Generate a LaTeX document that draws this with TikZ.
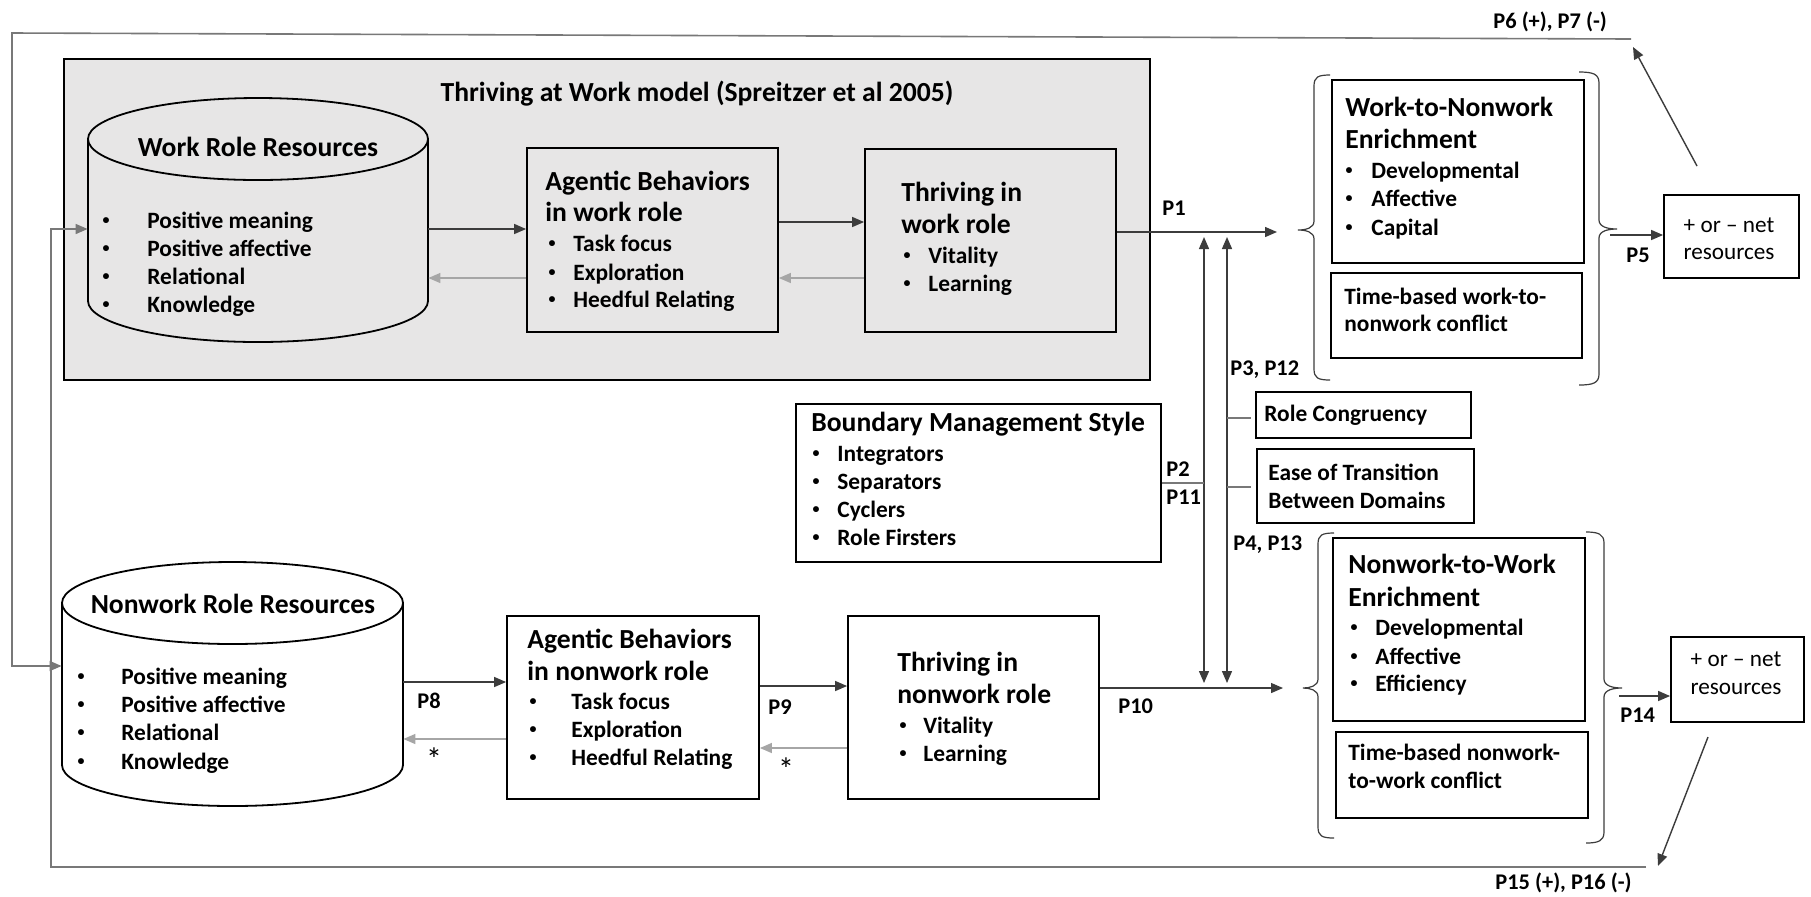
\documentclass[tikz,border=0pt]{standalone}
\usepackage{fontspec}
\setmainfont{Carlito}
\usetikzlibrary{arrows.meta,fit}
\definecolor{panel}{RGB}{231,230,230}
\definecolor{lgray}{RGB}{166,166,166}
\definecolor{dgray}{RGB}{60,60,60}
\definecolor{fgray}{RGB}{120,120,120}
\newcommand\ftitle{\fontsize{13.8pt}{16pt}\selectfont\bfseries}
\newcommand\fbody{\fontsize{11.7pt}{13.5pt}\selectfont\bfseries}
\newcommand\fbul{\fontsize{7pt}{8pt}\selectfont\bfseries}
\newcommand\fnet{\fontsize{11.6pt}{13.5pt}\selectfont}
\newcommand\flab{\fontsize{11.2pt}{13pt}\selectfont\bfseries}
\newcommand\fast{\fontsize{16pt}{18pt}\selectfont}
\begin{document}
\begin{tikzpicture}[x=0.5pt,y=-0.5pt,
  box/.style={draw=black, line width=0.9pt, inner sep=0},
  holder/.style={inner sep=0},
  txt/.style={inner sep=0, anchor=mid west, yshift=-1.5pt},
  ttl/.style={inner sep=0, anchor=mid west, yshift=-2pt, font=\ftitle},
  ctxt/.style={inner sep=0, anchor=mid, yshift=-1.5pt},
  bul/.style={inner sep=0, anchor=center, font=\fbul},
  tip/.style={-{Triangle[length=6pt,width=5pt]}},
  arr/.style={tip, line width=0.7pt, draw=dgray, fill=dgray},
  back/.style={tip, line width=0.7pt, draw=lgray, fill=lgray},
  fb/.style={tip, line width=0.8pt, draw=fgray},
  dbl/.style={{Triangle[length=6pt,width=5pt]}-{Triangle[length=6pt,width=5pt]}, line width=0.7pt, draw=dgray},
  thin/.style={line width=0.7pt, draw=fgray},
  brc/.style={line width=0.6pt, draw=dgray}]
\fill[white] (0,0) rectangle (1811,896);
\useasboundingbox (0,0) rectangle (1811,896);

% ---------- panel ----------
\node[box, fill=panel, fit={(64,59) (1150,380)}] (panel) {};
\node[ctxt, yshift=-0.5pt, font=\ftitle] (ptitle) at (697,93) {Thriving at Work model (Spreitzer et al 2005)};

% ---------- work role resources cylinder ----------
\draw[line width=0.9pt] (258,139) ellipse [x radius=170, y radius=41];
\draw[line width=0.9pt] (88,139) -- (88,301) arc[start angle=180, end angle=0, x radius=170, y radius=41] -- (428,139);
\node[holder, fit={(88,98) (428,342)}] (wrr) {};
\node[ctxt, yshift=-0.5pt, font=\ftitle] (wrrT) at (258,148) {Work Role Resources};
\node[bul] (wrrB1) at (106,221) {•};
\node[bul] (wrrB2) at (106,249) {•};
\node[bul] (wrrB3) at (106,277) {•};
\node[bul] (wrrB4) at (106,305) {•};
\node[txt, font=\fbody] (wrr1) at (147,221) {Positive meaning};
\node[txt, font=\fbody] (wrr2) at (147,249) {Positive affective};
\node[txt, font=\fbody] (wrr3) at (147,277) {Relational};
\node[txt, font=\fbody] (wrr4) at (147,305) {Knowledge};

% ---------- agentic work ----------
\node[box, fit={(527,148) (778,332)}] (awb) {};
\node[ttl] (awbT1) at (545,182) {Agentic Behaviors};
\node[ttl] (awbT2) at (545,213) {in work role};
\node[bul] (awbB1) at (552,244) {•};
\node[bul] (awbB2) at (552,273) {•};
\node[bul] (awbB3) at (552,300) {•};
\node[txt, font=\fbody] (awb1) at (573,244) {Task focus};
\node[txt, font=\fbody] (awb2) at (573,273) {Exploration};
\node[txt, font=\fbody] (awb3) at (573,300) {Heedful Relating};

% ---------- thriving work ----------
\node[box, fit={(865,149) (1116,332)}] (thw) {};
\node[ttl] (thwT1) at (901,193) {Thriving in};
\node[ttl] (thwT2) at (901,225) {work role};
\node[bul] (thwB1) at (907,256) {•};
\node[bul] (thwB2) at (907,284) {•};
\node[txt, font=\fbody] (thw1) at (928,256) {Vitality};
\node[txt, font=\fbody] (thw2) at (928,284) {Learning};

\draw[arr] (wrr.east |- 0,229) -- (awb.west |- 0,229);
\draw[back] (awb.west |- 0,278) -- (wrr.east |- 0,278);
\draw[arr] (awb.east |- 0,222) -- (thw.west |- 0,222);
\draw[back] (thw.west |- 0,278) -- (awb.east |- 0,278);

% ---------- work-to-nonwork ----------
\node[box, fit={(1332,80) (1584,263)}] (w2n) {};
\node[ttl] (w2nT1) at (1345,108) {Work-to-Nonwork};
\node[ttl] (w2nT2) at (1345,140) {Enrichment};
\node[bul] (w2nB1) at (1349,171) {•};
\node[bul] (w2nB2) at (1349,199) {•};
\node[bul] (w2nB3) at (1349,228) {•};
\node[txt, font=\fbody] (w2n1) at (1371,171) {Developmental};
\node[txt, font=\fbody] (w2n2) at (1371,199) {Affective};
\node[txt, font=\fbody] (w2n3) at (1371,228) {Capital};
\node[box, fit={(1331,273) (1582,358)}] (tw) {};
\node[txt, font=\fbody] (tw1) at (1344,297) {Time-based work-to-};
\node[txt, font=\fbody] (tw2) at (1344,324) {nonwork conflict};
% left brace
\draw[brc] (1330,75) .. controls (1318,75) and (1314,77) .. (1314,86) -- (1314,221)
  .. controls (1314,228) and (1306,230) .. (1298,230)
  .. controls (1306,230) and (1314,232) .. (1314,239) -- (1314,369)
  .. controls (1314,378) and (1318,380) .. (1330,380);
% right brace
\draw[brc] (1579,72) .. controls (1593,72) and (1599,74) .. (1599,83) -- (1599,220)
  .. controls (1599,227) and (1608,229) .. (1617,229)
  .. controls (1608,229) and (1599,231) .. (1599,238) -- (1599,374)
  .. controls (1599,383) and (1593,385) .. (1579,385);

\node[box, fit={(1664,195) (1799,278)}] (net1) {};
\node[ctxt, font=\fnet] (net1a) at (1729,225) {+ or – net};
\node[ctxt, font=\fnet] (net1b) at (1729,252) {resources};

% ---------- boundary management ----------
\node[box, fit={(796,404) (1161,562)}] (bms) {};
\node[ttl] (bmsT) at (811,423) {Boundary Management Style};
\node[bul] (bmsB1) at (816,454) {•};
\node[bul] (bmsB2) at (816,482) {•};
\node[bul] (bmsB3) at (816,510) {•};
\node[bul] (bmsB4) at (816,538) {•};
\node[txt, font=\fbody] (bms1) at (837,454) {Integrators};
\node[txt, font=\fbody] (bms2) at (837,482) {Separators};
\node[txt, font=\fbody] (bms3) at (837,510) {Cyclers};
\node[txt, font=\fbody] (bms4) at (837,538) {Role Firsters};

\node[box, fit={(1256,392) (1471,438)}] (rc) {};
\node[txt, font=\fbody] (rcT) at (1264,414) {Role Congruency};
\node[box, fit={(1257,449) (1474,523)}] (et) {};
\node[txt, font=\fbody] (et1) at (1268,473) {Ease of Transition};
\node[txt, font=\fbody] (et2) at (1268,501) {Between Domains};

% ---------- nonwork role resources cylinder ----------
\draw[line width=0.9pt] (232.5,603) ellipse [x radius=170.5, y radius=41];
\draw[line width=0.9pt] (62,603) -- (62,765) arc[start angle=180, end angle=0, x radius=170.5, y radius=41] -- (403,603);
\node[holder, fit={(62,562) (403,806)}] (nrr) {};
\node[ctxt, yshift=-0.5pt, font=\ftitle] (nrrT) at (233,605) {Nonwork Role Resources};
\node[bul] (nrrB1) at (81,677) {•};
\node[bul] (nrrB2) at (81,705) {•};
\node[bul] (nrrB3) at (81,733) {•};
\node[bul] (nrrB4) at (81,762) {•};
\node[txt, font=\fbody] (nrr1) at (121,677) {Positive meaning};
\node[txt, font=\fbody] (nrr2) at (121,705) {Positive affective};
\node[txt, font=\fbody] (nrr3) at (121,733) {Relational};
\node[txt, font=\fbody] (nrr4) at (121,762) {Knowledge};

% ---------- agentic nonwork ----------
\node[box, fit={(507,616) (759,799)}] (anb) {};
\node[ttl] (anbT1) at (527,640) {Agentic Behaviors};
\node[ttl] (anbT2) at (527,672) {in nonwork role};
\node[bul] (anbB1) at (533,702) {•};
\node[bul] (anbB2) at (533,730) {•};
\node[bul] (anbB3) at (533,758) {•};
\node[txt, font=\fbody] (anb1) at (571,702) {Task focus};
\node[txt, font=\fbody] (anb2) at (571,730) {Exploration};
\node[txt, font=\fbody] (anb3) at (571,758) {Heedful Relating};

% ---------- thriving nonwork ----------
\node[box, fit={(848,616) (1099,799)}] (thn) {};
\node[ttl] (thnT1) at (897,663) {Thriving in};
\node[ttl] (thnT2) at (897,695) {nonwork role};
\node[bul] (thnB1) at (903,726) {•};
\node[bul] (thnB2) at (903,754) {•};
\node[txt, font=\fbody] (thn1) at (923,726) {Vitality};
\node[txt, font=\fbody] (thn2) at (923,754) {Learning};

\draw[arr] (nrr.east |- 0,682) -- (anb.west |- 0,682);
\draw[back] (anb.west |- 0,739) -- (nrr.east |- 0,739);
\draw[arr] (anb.east |- 0,686) -- (thn.west |- 0,686);
\draw[back] (thn.west |- 0,748) -- (anb.east |- 0,748);

% ---------- nonwork-to-work ----------
\node[box, fit={(1333,538) (1585,721)}] (n2w) {};
\node[ttl] (n2wT1) at (1348,565) {Nonwork-to-Work};
\node[ttl] (n2wT2) at (1348,598) {Enrichment};
\node[bul] (n2wB1) at (1354,628) {•};
\node[bul] (n2wB2) at (1354,657) {•};
\node[bul] (n2wB3) at (1354,684) {•};
\node[txt, font=\fbody] (n2w1) at (1375,628) {Developmental};
\node[txt, font=\fbody] (n2w2) at (1375,657) {Affective};
\node[txt, font=\fbody] (n2w3) at (1375,684) {Efficiency};
\node[box, fit={(1336,732) (1588,818)}] (tn) {};
\node[txt, font=\fbody] (tn1) at (1348,753) {Time-based nonwork-};
\node[txt, font=\fbody] (tn2) at (1348,781) {to-work conflict};
% left brace
\draw[brc] (1334,533) .. controls (1322,533) and (1318,535) .. (1318,544) -- (1318,679)
  .. controls (1318,686) and (1310,688) .. (1303,688)
  .. controls (1310,688) and (1318,690) .. (1318,697) -- (1318,827)
  .. controls (1318,836) and (1322,838) .. (1334,838);
% right brace
\draw[brc] (1586,532) .. controls (1598,532) and (1604,534) .. (1604,543) -- (1604,679)
  .. controls (1604,686) and (1613,688) .. (1622,688)
  .. controls (1613,688) and (1604,690) .. (1604,697) -- (1604,832)
  .. controls (1604,841) and (1598,843) .. (1586,843);

\node[box, fit={(1671,637) (1804,722)}] (net2) {};
\node[ctxt, font=\fnet] (net2a) at (1736,659) {+ or – net};
\node[ctxt, font=\fnet] (net2b) at (1736,687) {resources};

% ---------- central connectors ----------
\coordinate (p1end) at (1277,232);
\coordinate (p10end) at (1283,688);
\draw[arr] (thw.east |- p1end) -- (p1end);
\draw[arr] (thn.east |- p10end) -- (p10end);
\coordinate (vA1) at (1204,237);
\coordinate (vA2) at (1204,683);
\coordinate (vB1) at (1227,237);
\coordinate (vB2) at (1227,683);
\draw[dbl] (vA2) -- (vA1);
\draw[dbl] (vB2) -- (vB1);
\draw[thin] (bms.east |- 0,483) -- (vA1 |- 0,483);
\draw[thin] (vB1 |- 0,418) -- (1251,418);
\draw[thin] (vB1 |- 0,487) -- (1251,487);

\draw[arr] (1610,235) -- (net1.west |- 0,235);
\draw[arr] (1619,696) -- (net2.west |- 0,696);

% ---------- feedback loops ----------
\coordinate (topR) at (1631,39);
\coordinate (topL) at (12,33);
\coordinate (n1up) at (1697,166);
\draw[arr] (n1up) -- (1633,47);
\draw[fb] (topR) -- (topL) -- (topL |- 0,666) -- (nrr.west |- 0,666);
\coordinate (botR) at (1646,867);
\coordinate (botL) at (51,867);
\coordinate (n2dn) at (1708,737);
\draw[arr] (n2dn) -- (1658,866);
\draw[fb] (botR) -- (botL) -- (botL |- 0,229) -- (wrr.west |- 0,229);

% ---------- labels ----------
\node[txt, font=\flab] (lP67) at (1493,21) {P6 (+), P7 (-)};
\node[txt, font=\flab] (lP1516) at (1495,882) {P15 (+), P16 (-)};
\node[txt, font=\flab] (lP1) at (1162,208) {P1};
\node[txt, font=\flab] (lP2) at (1166,469) {P2};
\node[txt, font=\flab] (lP11) at (1166,497) {P11};
\node[txt, font=\flab] (lP3) at (1230,368) {P3, P12};
\node[txt, font=\flab] (lP4) at (1233,543) {P4, P13};
\node[txt, font=\flab] (lP5) at (1626,255) {P5};
\node[txt, font=\flab] (lP8) at (417,701) {P8};
\node[txt, font=\flab] (lP9) at (768,707) {P9};
\node[txt, font=\flab] (lP10) at (1118,706) {P10};
\node[txt, font=\flab] (lP14) at (1620,715) {P14};
\node[ctxt, font=\fast] (ast1) at (434,763) {*};
\node[ctxt, font=\fast] (ast2) at (786,773) {*};
\end{tikzpicture}
\end{document}
